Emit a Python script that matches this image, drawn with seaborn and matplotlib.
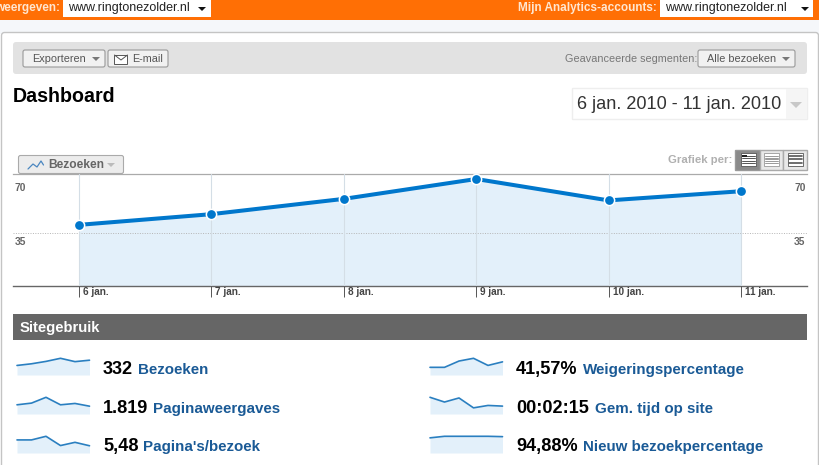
import numpy as np
import matplotlib
matplotlib.use("Agg")
import matplotlib.pyplot as plt
from matplotlib.patches import Rectangle, FancyBboxPatch, Polygon
from matplotlib.transforms import ScaledTranslation
import seaborn as sns

days = ["6 jan.", "7 jan.", "8 jan.", "9 jan.", "10 jan.", "11 jan."]
bezoeken = [40, 47, 57, 70, 56, 62]
paginaweergaves = [260, 308, 472, 260, 298, 221]
pagina_per_bezoek = [6.5, 6.5, 8.3, 3.7, 5.3, 3.6]
weigeringspercentage = [28, 28, 51, 61, 35, 48]
tijd_op_site = [201, 144, 193, 74, 103, 95]
nieuw_percentage = [88, 97, 97, 97, 97, 95]
y_ticks = [35, 70]

metric_values = ["332", "1.819", "5,48", "41,57%", "00:02:15", "94,88%"]
metric_names = ["Bezoeken", "Paginaweergaves", "Pagina's/bezoek",
                "Weigeringspercentage", "Gem. tijd op site", "Nieuw bezoekpercentage"]

W, H = 820, 465
LINE = "#0077cc"
FILL = "#e3f0fa"
LINK = "#1a5a96"

sns.set_theme(style="white")
plt.rcParams["font.family"] = ["Liberation Sans", "DejaVu Sans"]

fig = plt.figure(figsize=(W / 100, H / 100), dpi=100, facecolor="white")

# whole-figure axes in pixel coordinates for the page chrome
ui = fig.add_axes([0, 0, 1, 1], zorder=0)
ui.set_xlim(0, W)
ui.set_ylim(H, 0)
ui.axis("off")


def px_axes(x0, y0, x1, y1, zorder=2):
    ax = fig.add_axes([x0 / W, 1 - y1 / H, (x1 - x0) / W, (y1 - y0) / H], zorder=zorder)
    ax.patch.set_alpha(0)
    return ax


def txt(x, y, s, px=12, color="#333333", weight="normal", ha="left", **kw):
    return ui.text(x, y, s, fontsize=px * 0.72, color=color, fontweight=weight,
                   ha=ha, va="center", **kw)


def box(x0, y0, x1, y1, fc, ec="none", lw=1, z=1):
    ui.add_patch(Rectangle((x0, y0), x1 - x0, y1 - y0, fc=fc, ec=ec, lw=lw, zorder=z))


def button(x0, y0, x1, y1):
    ui.add_patch(FancyBboxPatch((x0, y0), x1 - x0, y1 - y0, boxstyle="round,pad=0,rounding_size=2",
                                fc="#f1f1f1", ec="#999999", lw=0.8, zorder=3))


def arrow(x, y, w=4, h=4, color="#666666"):
    ui.add_patch(Polygon([(x - w, y), (x + w, y), (x, y + h)], fc=color, ec="none", zorder=4))


# top bar
box(0, 0, W, 20, "#ff6f05")
box(0, 20, W, 34, "#f5f7fa")
ui.add_patch(FancyBboxPatch((1.5, 32.5), 817, 440, boxstyle="round,pad=0,rounding_size=3",
                            fc="white", ec="#c4c4c4", lw=1, zorder=1))
box(0, 0, W, 20, "#ff6f05", z=2)
txt(60, 8, "weergeven:", 11.8, "#ffe6d0", "bold", ha="right", zorder=4)
box(63, 0, 211, 17, "white", z=3)
txt(68, 8, "www.ringtonezolder.nl", 12.5, "#222222", zorder=4)
arrow(202, 7, color="#111111")
txt(657, 8, "Mijn Analytics-accounts:", 11.8, "#ffe6d0", "bold", ha="right", zorder=4)
box(660, 0, 813, 17, "white", z=3)
txt(665, 8, "www.ringtonezolder.nl", 12.5, "#222222", zorder=4)
arrow(805, 7, color="#111111")

# toolbar
ui.add_patch(FancyBboxPatch((13, 42), 794, 32, boxstyle="round,pad=0,rounding_size=3",
                            fc="#e2e2e2", ec="none", zorder=2))
button(23, 50, 105, 67)
txt(32, 59, "Exporteren", 10.9, "#555555", zorder=5)
arrow(96, 57, color="#777777")
button(108, 50, 168, 67)
ui.add_patch(Rectangle((114.5, 55), 13, 9, fc="white", ec="#555555", lw=0.7, zorder=4))
ui.plot([114.5, 121, 127.5], [55, 60, 55], color="#555555", lw=0.7, zorder=5)
txt(132, 59, "E-mail", 10.7, "#555555", zorder=5)
txt(565, 59, "Geavanceerde segmenten:", 10.9, "#777777", zorder=5)
button(698, 50, 795, 67)
txt(707, 59, "Alle bezoeken", 10.9, "#555555", zorder=5)
arrow(786, 57, color="#777777")

# title and date range
txt(13, 96, "Dashboard", 19.7, "#000000", "bold", zorder=5)
box(572.5, 88.5, 807, 119.5, "white", "#eeeeee", z=2)
box(786, 89, 807, 119, "#f5f5f5", z=3)
txt(577, 104, "6 jan. 2010 - 11 jan. 2010", 18.1, "#333333", zorder=5)
arrow(796, 102, w=6, h=6, color="#c8c8c8")

# chart tab, open at the bottom where it meets the top rule
ui.add_patch(FancyBboxPatch((18.5, 155.5), 105, 18, boxstyle="round,pad=0,rounding_size=2",
                            fc="#ececec", ec="#aaaaaa", lw=0.8, zorder=2))
ui.plot([28, 33, 37, 41, 43.5], [169, 164, 167, 161, 165], color="#4a86c0", lw=0.9, zorder=4)
txt(48, 165, "Bezoeken", 12, "#666666", "bold", zorder=5)
arrow(111, 163, color="#bbbbbb")

# view switch
txt(732, 160, "Grafiek per:", 11.4, "#b0b0b0", "bold", ha="right", zorder=5)
box(735.5, 149.5, 760, 169.5, "#8a8a8a", "#999999", z=2)
box(760, 149.5, 783.5, 169.5, "#e8e8e8", "#aaaaaa", z=2)
box(783.5, 149.5, 807, 169.5, "#e8e8e8", "#aaaaaa", z=2)
switch_icons = [(741, 4, "#555555", 0.7), (764, 5, "#999999", 0.7), (788, 3, "#555555", 1.2)]
for x0, n, col, lw in switch_icons:
    box(x0, 153, x0 + 15, 166, "white", col, 0.6, z=4)
    for y in np.linspace(156, 163, n):
        ui.plot([x0 + 1, x0 + 14], [y, y], color=col, lw=lw, zorder=5)
box(742, 154.5, 747, 157, "#222222", z=6)

# main chart, baseline at px 286, top rule at px 173.5
ax = px_axes(13, 173.5, 807, 286)
pos = np.arange(len(days))
ax.fill_between(pos, bezoeken, color=FILL, lw=0, zorder=1)
sns.lineplot(x=pos, y=bezoeken, ax=ax, color=LINE, linewidth=2.9, marker="o", markersize=7.4,
             markeredgecolor="white", markeredgewidth=1.1, errorbar=None, zorder=4, clip_on=False)
ax.set_xlim(-0.4985, 5.4985)
ax.set_ylim(0, 73.6)
ax.axhline(35, color="#b5b5b5", lw=0.7, ls=(0, (1, 1.5)), zorder=2)
ax.set_xticks(pos)
ax.set_xticklabels(days)
ax.grid(axis="x", color="#d4dee6", lw=0.8)
ax.set_axisbelow(False)
ax.set_yticks(y_ticks)
ax.tick_params(axis="x", length=8, width=0.7, color="#555555", pad=-7.5, labelsize=7.2,
               labelcolor="#444444", bottom=True)
ax.tick_params(axis="y", length=0, pad=-1, labelsize=7.4, labelcolor="#666666",
               left=False, right=False, labelleft=True, labelright=True)
dx = ScaledTranslation(4 / 100, 0, fig.dpi_scale_trans)
for lab in ax.get_xticklabels():
    lab.set_ha("left")
    lab.set_fontweight("bold")
    lab.set_transform(lab.get_transform() + dx)
dy = ScaledTranslation(0, -8 / 100, fig.dpi_scale_trans)
for tick in ax.yaxis.get_major_ticks():
    tick.label1.set_ha("left")
    tick.label2.set_ha("right")
    for lab in (tick.label1, tick.label2):
        lab.set_fontweight("bold")
        lab.set_transform(lab.get_transform() + dy)
ax.set_xlabel("")
ax.set_ylabel("")
for side in ("left", "right"):
    ax.spines[side].set_visible(False)
ax.spines["top"].set_color("#aaaaaa")
ax.spines["top"].set_linewidth(0.9)
ax.spines["bottom"].set_color("#666666")
ax.spines["bottom"].set_linewidth(1.0)

# site usage header
box(13, 314, 807, 340, "#666666", z=2)
txt(20, 328, "Sitegebruik", 14.9, "white", "bold", zorder=5)

# sparklines and metrics
series = [bezoeken, paginaweergaves, pagina_per_bezoek,
          weigeringspercentage, tijd_op_site, nieuw_percentage]
spark_x = [17, 17, 17, 430, 430, 430]
spark_bottom = [375, 414, 453, 375, 414, 453]
value_x = [103, 103, 103, 516, 516, 516]
name_x = [138, 153, 143, 583, 595, 583]
text_y = [369, 408, 446, 369, 408, 446]

for i, vals in enumerate(series):
    sp = px_axes(spark_x[i], spark_bottom[i] - 16.7, spark_x[i] + 72.5, spark_bottom[i], zorder=3)
    sp.fill_between(pos, vals, color=FILL, lw=0)
    sns.lineplot(x=pos, y=vals, ax=sp, color="#2a7fc0", linewidth=1.2, errorbar=None, clip_on=False)
    sp.set_xlim(0, 5)
    sp.set_ylim(0, max(vals))
    sp.axis("off")
    txt(value_x[i], text_y[i], metric_values[i], 18.2, "#000000", "bold", zorder=5)
    txt(name_x[i], text_y[i] + 0.5, metric_names[i], 15.1, LINK, "bold", zorder=5)

fig.savefig("out.png", dpi=100, facecolor="white")
